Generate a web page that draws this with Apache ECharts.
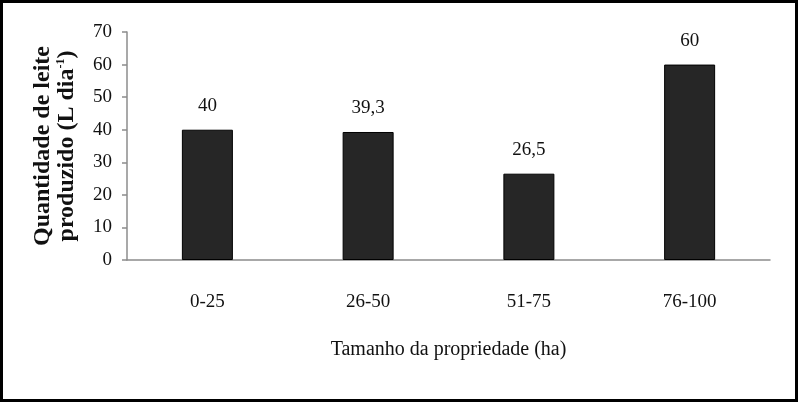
<!DOCTYPE html>
<html>
<head>
<meta charset="utf-8">
<script src="https://cdn.jsdelivr.net/npm/echarts@6/dist/echarts.min.js"></script>
<style>
html,body{margin:0;padding:0;background:#fff;}
#chart{width:798px;height:402px;}
</style>
</head>
<body>
<div id="chart"></div>
<script>
var categories = ['0-25', '26-50', '51-75', '76-100'];
var milkValues = [40, 39.3, 26.5, 60];
var yTicks = [0, 10, 20, 30, 40, 50, 60, 70];

var serif = '"Liberation Serif", "DejaVu Serif", serif';
var chart = echarts.init(document.getElementById('chart'), null, {renderer: 'canvas'});
chart.setOption({
  backgroundColor: '#ffffff',
  animation: false,
  graphic: [{
    type: 'rect',
    shape: {x: 1.5, y: 1.5, width: 795, height: 399},
    style: {fill: 'none', stroke: '#000', lineWidth: 3},
    silent: true
  }],
  grid: {left: 127, right: 28, top: 32, bottom: 142, containLabel: false},
  xAxis: {
    type: 'category',
    data: categories,
    axisLine: {show: true, lineStyle: {color: '#8c8c8c', width: 1.5}},
    axisTick: {show: false},
    axisLabel: {fontFamily: serif, fontSize: 19, color: '#111', margin: 33},
    name: 'Tamanho da propriedade (ha)',
    nameLocation: 'middle',
    nameGap: 80,
    nameTextStyle: {fontFamily: serif, fontSize: 20, color: '#111'}
  },
  yAxis: {
    type: 'value',
    min: yTicks[0],
    max: yTicks[yTicks.length - 1],
    interval: yTicks[1] - yTicks[0],
    splitLine: {show: false},
    axisLine: {show: true, lineStyle: {color: '#8c8c8c', width: 1.5}},
    axisTick: {show: true, inside: false, length: 5, lineStyle: {color: '#8c8c8c', width: 1.5}},
    axisLabel: {fontFamily: serif, fontSize: 19, color: '#111', margin: 15},
    name: 'Quantidade de leite\nproduzido (L dia{sup|-1})',
    nameLocation: 'middle',
    nameRotate: 90,
    nameGap: 48,
    nameTextStyle: {
      fontFamily: serif, fontSize: 24, fontWeight: 'bold', color: '#111', lineHeight: 24,
      rich: {
        sup: {fontFamily: serif, fontSize: 12, fontWeight: 'bold', color: '#111', verticalAlign: 'top', lineHeight: 24}
      }
    }
  },
  series: [{
    type: 'bar',
    data: milkValues,
    barWidth: 51,
    itemStyle: {color: '#262626', borderColor: '#000', borderWidth: 1},
    label: {
      show: true,
      position: 'top',
      distance: 14,
      fontFamily: serif,
      fontSize: 19,
      color: '#111',
      formatter: function (p) { return String(p.value).replace('.', ','); }
    }
  }]
});
</script>
</body>
</html>
